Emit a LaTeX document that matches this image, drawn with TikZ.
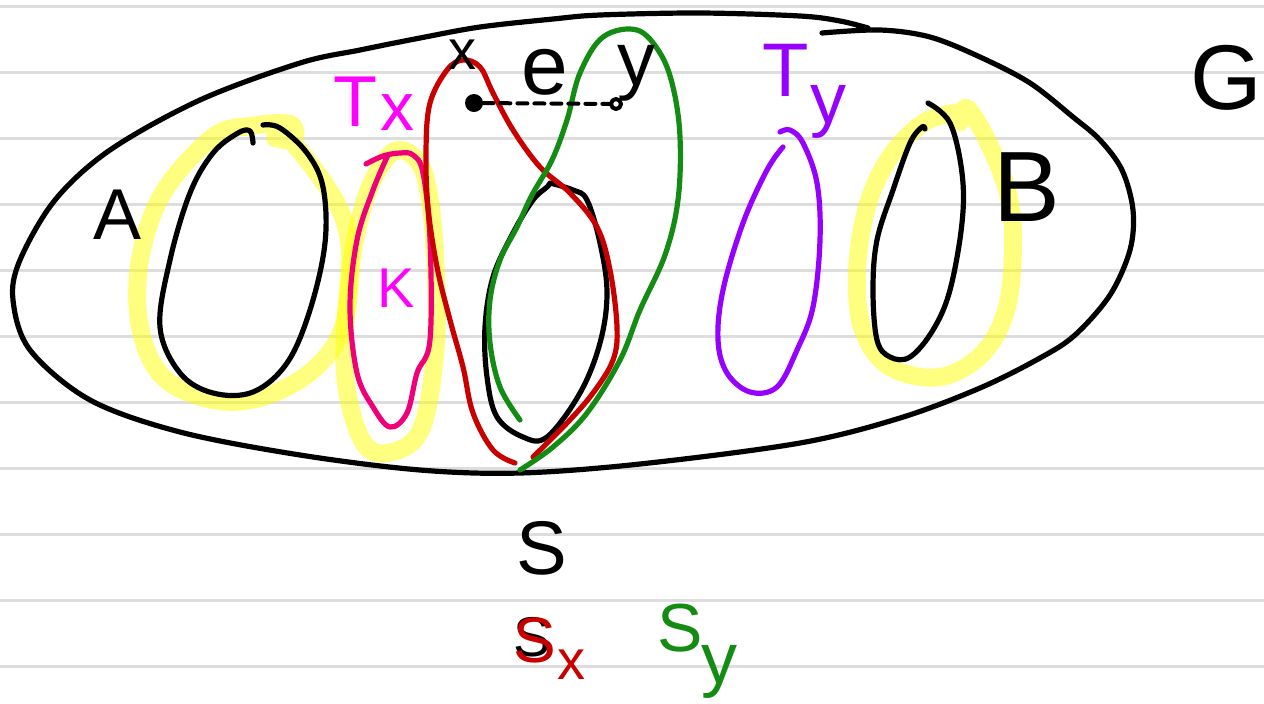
\documentclass[tikz,border=0pt]{standalone}
\usepackage{fontspec}
\setmainfont{Liberation Sans}
\definecolor{rulegray}{RGB}{221,221,221}
\definecolor{hlyellow}{RGB}{255,255,0}
\definecolor{sxred}{RGB}{200,0,0}
\definecolor{sygreen}{RGB}{20,140,20}
\definecolor{typurple}{RGB}{150,0,255}
\definecolor{kpink}{RGB}{240,0,120}
\definecolor{txmag}{RGB}{255,0,255}
\begin{document}
\begin{tikzpicture}[x=0.5pt,y=-0.5pt,line cap=round,line join=round,
  rulestyle/.style={draw=rulegray,line width=1.5pt},
  pen/.style={line width=2.6pt},
  hl/.style={draw=hlyellow,draw opacity=0.5,line width=9pt},
  lbl/.style={inner sep=0pt,font=\fontsize{#1}{#1}\selectfont}]
\useasboundingbox (0,0) rectangle (1264,703);
\fill[white] (0,0) rectangle (1264,703);
% ruled paper
\foreach \yy in {6,72,...,666} \draw[rulestyle] (0,\yy) -- (1264,\yy);
% yellow highlights
\draw[hl] plot[smooth,tension=0.6] coordinates {(275,138)(293,140)(290,124)(250,126)(213,137)(163,193)(140,260)(140,327)(163,377)(213,400)(263,397)(313,370)(343,327)(350,260)(343,217)(320,177)(293,143)};
\draw[hl] plot[smooth cycle,tension=0.6] coordinates {(400,150)(415,158)(426,180)(434,240)(436,340)(422,427)(392,452)(363,442)(345,373)(350,273)(365,200)(385,160)};
\draw[hl] plot[smooth,tension=0.6] coordinates {(960,122)(967,108)(987,140)(1007,190)(1013,240)(1007,307)(983,353)(940,377)(890,367)(863,330)(857,273)(867,207)(890,157)(923,123)(953,113)};
% big set G
\draw[pen] plot[smooth,tension=0.55] coordinates {(868,28)(840,21)(800,16)(700,13)(600,15)(553,19)(480,27)(420,38)(360,50)(300,63)(200,100)(110,150)(55,200)(20,260)(13,300)(30,350)(90,400)(180,432)(300,455)(420,470)(520,473)(640,464)(800,443)(900,418)(980,388)(1040,358)(1075,335)(1110,295)(1130,250)(1133,210)(1122,170)(1100,140)(1073,117)(1030,83)(980,57)(930,37)(880,30)(822,33)};
% A
\draw[pen] plot[smooth,tension=0.6] coordinates {(253,143)(250,131)(238,133)(213,153)(190,193)(170,260)(160,327)(180,373)(213,393)(253,392)(287,363)(310,310)(325,243)(323,187)(307,153)(280,128)(263,125)};
% B
\draw[pen] plot[smooth,tension=0.6] coordinates {(928,103)(950,123)(962,173)(962,223)(950,290)(933,330)(910,357)(890,357)(877,340)(873,290)(877,240)(893,190)(910,143)(922,127)(925,129)};
% middle black
\draw[pen] plot[smooth,tension=0.6] coordinates {(550,183)(573,190)(587,200)(600,243)(607,293)(600,343)(580,393)(547,437)(523,437)(497,417)(487,377)(485,327)(493,277)(513,233)(533,200)(547,187)(550,183)};
% K (pink)
\draw[pen,draw=kpink] plot[smooth,tension=0.6] coordinates {(366,164)(383,156)(400,153)(413,155)(423,173)(430,240)(430,340)(417,373)(407,413)(390,427)(373,407)(357,373)(350,307)(357,240)(373,190)(388,155)};
% S_x (red)
\draw[pen,draw=sxred] plot[smooth,tension=0.6] coordinates {(515,463)(493,450)(473,413)(463,367)(450,320)(437,267)(428,207)(426,150)(430,103)(447,70)(463,60)(480,67)(493,93)(513,130)(540,167)(570,193)(597,227)(610,270)(617,327)(613,360)(593,393)(567,423)(533,457)};
% S_y (green)
\draw[pen,draw=sygreen] plot[smooth,tension=0.6] coordinates {(520,420)(500,387)(490,343)(490,300)(500,260)(517,227)(532,195)(552,160)(567,120)(580,73)(603,37)(637,30)(660,53)(673,87)(680,137)(678,200)(665,255)(640,310)(620,360)(587,413)(553,447)(520,470)};
% T_y (purple)
\draw[pen,draw=typurple] plot[smooth,tension=0.6] coordinates {(783,147)(767,170)(743,223)(723,290)(718,340)(727,373)(750,392)(777,387)(797,350)(813,307)(820,240)(817,183)(803,143)(790,130)(780,132)};
% edge e between x and y
\node[circle,fill=black,inner sep=0pt,minimum size=9pt] (xv) at (474,103) {};
\node[circle,draw=black,line width=2pt,inner sep=0pt,minimum size=5pt] (yv) at (616,104) {};
\draw[line width=2pt,dash pattern=on 5pt off 3.5pt] (xv) -- (yv);
% labels
\node[lbl=46] (G) at (1226,78) {G};
\node[lbl=36] (A) at (118,215) {A};
\node[lbl=50] (B) at (1027,187) {B};
\node[lbl=28] (xl) at (462,55) {x};
\node[lbl=42] (el) at (545,72) {e};
\node[lbl=38] (yl) at (636,73) {y};
\node[lbl=36,text=txmag] (T1) at (355,102) {T};
\node[lbl=34,text=txmag] (x1) at (397,113) {x};
\node[lbl=28,text=txmag] (K) at (396,288) {K};
\node[lbl=38,text=typurple] (T2) at (786,70) {T};
\node[lbl=36,text=typurple] (y2) at (828,112) {y};
\node[lbl=38] (S) at (542,548) {S};
\node[lbl=28] (Sb) at (532,637) {S};
\node[lbl=32,text=sxred] (Sr) at (535,640) {S};
\node[lbl=28,text=sxred] (xr) at (571,665) {x};
\node[lbl=34,text=sygreen] (Sg) at (680,628) {S};
\node[lbl=36,text=sygreen] (yg) at (719,672) {y};
\end{tikzpicture}
\end{document}
